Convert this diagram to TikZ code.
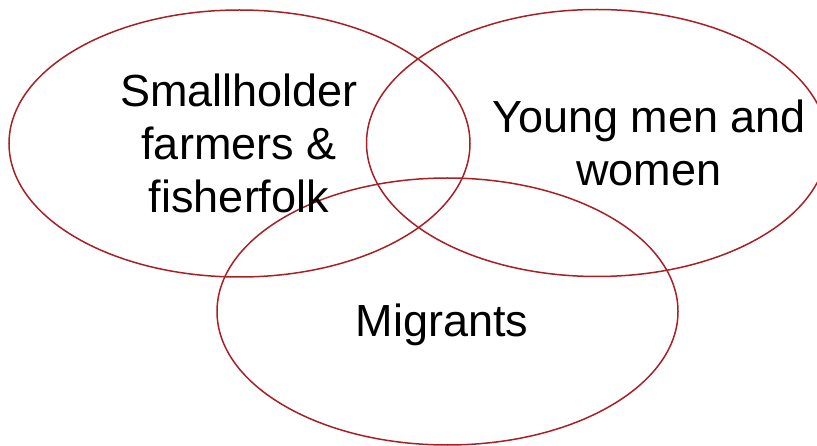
\documentclass[tikz,border=0pt]{standalone}
\usepackage{fontspec}
\setmainfont{Liberation Sans}
\usetikzlibrary{shapes,positioning}
\definecolor{setred}{RGB}{168,32,38}

\begin{document}
\begin{tikzpicture}[x=1pt,y=-1pt,
            group/.style={
                ellipse, draw=setred, line width=1.5pt, inner sep=0pt,
                minimum width=461pt, minimum height=267pt},
            label/.style={align=center, inner sep=0pt,
                font=\fontsize{45}{53}\selectfont}]

            \useasboundingbox (0,0) rectangle (817,446);

            \node [group] (farm) at (239.5,143.5) {};
            \node [group] (young) at (597,143) {};
            \node [group] (migr) at (447.5,311.5) {};

            \node [label] (tfarm) at (239,143) {Smallholder\\farmers \&\\fisherfolk};
            \node [label] (tyoung) at (649,143) {Young men and\\women};
            \node [label] (tmigr) at (442,325) {Migrants};

        \end{tikzpicture}
\end{document}
